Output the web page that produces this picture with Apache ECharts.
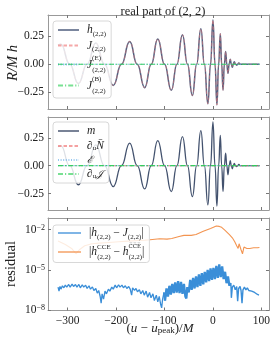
<!DOCTYPE html>
<html><head><meta charset="utf-8">
<script src="https://cdn.jsdelivr.net/npm/echarts@6/dist/echarts.min.js"></script>
<style>html,body{margin:0;padding:0;background:#fff}#c{width:273px;height:342px}</style>
</head><body><div id="c"></div>
<script>
// ---------- data ----------
const xTicks = [-300, -200, -100, 0, 100];
const yTicks = [-0.25, 0, 0.25];
const logTicks = [-8, -5, -2];   // exponents of 10

// real part of the (2,2) waveform: extrema and zero crossings
const waveU = [-320,-314,-296,-278,-260,-242,-224,-206,-189,-172,-156.5,-141,-127.5,-114,-100,-86,-74.5,-63,-52.7,-42.5,-33.7,-25,-17.7,-10.5,-5,0,4.2,8.2,11.7,15.2,18,20.8,23.5,26.2,28.6,31,33.4,35.8,37.9,40,42,44,46.5,49,51,53.5,56,60,96];
const waveH = [0.17,0.178,0,-0.171,0,0.188,0,-0.188,0,0.203,0,-0.208,0,0.225,0,-0.232,0,0.262,0,-0.278,0,0.315,0,-0.352,0,0.393,0,-0.362,0,0.272,0,-0.232,0,0.113,0,-0.081,0,0.045,0,-0.027,0,0.022,0,-0.008,0,0.012,0,0,0];

// flat (zero) curves
const flatU = [-320, 96];
const flatV = [0, 0];

// residual |h - J| : [u, log10 value]
const residualHJ = [[-320,-6.3],[-318,-6.6],[-316,-6.25],[-314,-6.45],[-311,-6.2],[-308,-6.35],[-305,-6.15],[-302,-6.3],[-298,-6.1],[-295,-6.3],[-291,-6.08],[-288,-6.25],[-284,-6.1],[-281,-6.3],[-277,-6.1],[-274,-6.35],[-270,-6.12],[-267,-6.3],[-263,-6.15],[-260,-6.4],[-256,-6.2],[-253,-6.45],[-249,-6.28],[-246,-6.55],[-242,-6.4],[-239,-6.75],[-236,-6.55],[-233,-7.0],[-231,-7.5],[-229,-6.8],[-226,-7.2],[-223,-6.6],[-220,-6.8],[-216,-6.45],[-213,-6.6],[-209,-6.3],[-206,-6.45],[-202,-6.15],[-199,-6.35],[-195,-6.12],[-192,-6.3],[-188,-6.15],[-185,-6.35],[-181,-6.2],[-178,-6.4],[-174,-6.25],[-171,-6.45],[-168,-6.9],[-166,-6.35],[-162,-6.55],[-159,-6.4],[-156,-6.65],[-152,-6.5],[-149,-6.8],[-145,-6.55],[-142,-6.9],[-138,-6.6],[-135,-7.05],[-131,-6.7],[-128,-7.1],[-124,-6.8],[-121,-7.3],[-117,-6.9],[-114,-7.4],[-111,-7.0],[-108,-7.6],[-106,-7.85],[-104,-7.2],[-101,-6.7],[-99,-7.3],[-96,-6.4],[-93,-7.0],[-90,-6.2],[-87,-6.85],[-84,-6.05],[-81,-6.75],[-78,-5.95],[-75,-6.7],[-72,-5.85],[-69,-6.75],[-66,-5.9],[-63,-6.8],[-60,-6.05],[-57,-7.0],[-55,-7.15],[-53,-6.3],[-50,-6.7],[-47,-5.75],[-44,-6.5],[-41,-5.6],[-38,-6.4],[-35,-5.5],[-32,-6.3],[-29,-5.35],[-26,-6.2],[-23,-5.25],[-20,-6.1],[-17,-5.15],[-14,-5.95],[-11,-5.0],[-8,-5.85],[-5,-4.9],[-2,-5.75],[1,-4.85],[4,-5.7],[7,-4.7],[10,-5.6],[13,-4.6],[16,-5.55],[19,-4.75],[22,-5.7],[25,-5.15],[28,-6.0],[31,-5.5],[34,-6.2],[37,-6.0],[38,-7.1],[40,-6.3],[43,-6.15],[46,-6.5],[49,-6.25],[51,-7.35],[53,-6.4],[56,-6.25],[58,-6.55],[60,-7.5],[62,-6.5],[65,-6.3],[68,-6.5],[71,-6.35],[74,-6.55],[77,-6.45],[80,-6.6],[83,-6.55],[86,-6.7],[89,-6.7],[92,-6.85],[95,-6.9]];

// residual |h^CCE - h^CCE-bar| : [u, log10 value]
const residualCCE = [[-320,-2.85],[-305,-3.1],[-292,-3.4],[-283,-3.8],[-276,-3.5],[-265,-3.2],[-250,-3.05],[-235,-3.0],[-215,-2.95],[-195,-2.9],[-175,-2.85],[-155,-2.8],[-140,-2.78],[-130,-2.75],[-110,-2.68],[-95,-2.7],[-85,-2.66],[-70,-2.5],[-60,-2.42],[-45,-2.42],[-35,-2.35],[-20,-2.12],[-5,-1.9],[7,-1.72],[13,-1.75],[18,-1.82],[25,-2.05],[34,-2.37],[40,-2.6],[45,-2.9],[49,-3.2],[52,-3.4],[54,-3.05],[56,-3.15],[58,-3.5],[61,-3.8],[64,-3.3],[67,-3.2],[70,-3.4],[73,-3.3],[76,-3.4],[80,-3.3],[84,-3.35],[88,-3.3],[92,-3.35],[96,-3.33]];

// ---------- chart ----------
const FONT = 'Liberation Serif';
const TXT = '#222';
const FRAME = '#999';
const minus = v => String(v).replace('-', '\u2212');
const wave = waveU.map((u, i) => [u, waveH[i]]);
const flat = flatU.map((u, i) => [u, flatV[i]]);

function makeRich(lh, lhTall) {
  return {
    i: {fontFamily: FONT, fontStyle: 'italic', fontSize: 11.5, color: TXT, lineHeight: lh},
    it: {fontFamily: FONT, fontStyle: 'italic', fontSize: 11.5, color: TXT, lineHeight: lhTall},
    r: {fontFamily: FONT, fontSize: 11.5, color: TXT, lineHeight: lh},
    rt: {fontFamily: FONT, fontSize: 11.5, color: TXT, lineHeight: lhTall},
    sc: {fontFamily: 'DejaVu Serif', fontStyle: 'italic', fontSize: 10, color: TXT, lineHeight: lh},
    sb: {fontFamily: FONT, fontSize: 7, color: TXT, verticalAlign: 'bottom', lineHeight: 7},
    sp: {fontFamily: FONT, fontSize: 7, color: TXT, verticalAlign: 'top', lineHeight: 7, width: 0.1},
    spo: {fontFamily: 'DejaVu Serif', fontSize: 5.5, color: TXT, verticalAlign: 'top', lineHeight: 7, width: 0.1}
  };
}
const names = {
  h22: '{i|h}{sb|(2,2)}',
  J22: '{i|J}{sb|(2,2)}',
  JE: '{it|J}{sp|(E)}{sb|(2,2)}',
  JB: '{it|J}{sp|(B)}{sb|(2,2)}',
  m: '{i|m}',
  dN: '{r|∂}{sb|u}{i|N̄}',
  E: '{sc|ℰ}',
  dJ: '{r|∂}{sb|u}{sc|𝒥}',
  res1: '{r||}{i|h}{sb|(2,2)}{r| − }{i|J}{sb|(2,2)}{r||}',
  res2: '{rt||}{it|h}{sp|CCE}{sb|(2,2)}{rt| − }{it|h}{spo|C̅C̅E̅}{sb|(2,2)}{rt||}'
};

function xAx(g, pos, label) {
  return {
    type: 'value', gridIndex: g, position: pos, min: -340.75, max: 115.75,
    axisLine: {show: true, onZero: false, lineStyle: {color: FRAME, width: 1}},
    axisTick: {show: true, inside: true, length: 3, customValues: xTicks, lineStyle: {color: '#777'}},
    axisLabel: {show: label, customValues: xTicks, margin: 4, color: TXT, fontFamily: FONT, fontSize: 11.5, formatter: v => minus(v)},
    splitLine: {show: false}
  };
}
function yAx(g, pos, label) {
  return {
    type: 'value', gridIndex: g, position: pos, min: -0.398, max: 0.438,
    axisLine: {show: true, onZero: false, lineStyle: {color: FRAME, width: 1}},
    axisTick: {show: true, inside: true, length: 3, customValues: yTicks, lineStyle: {color: '#777'}},
    axisLabel: {show: label, customValues: yTicks, margin: 4, color: TXT, fontFamily: FONT, fontSize: 11.5, formatter: v => minus(v.toFixed(2))},
    splitLine: {show: false}
  };
}
function yLog(pos, label) {
  return {
    type: 'value', gridIndex: 2, position: pos, min: -8.05, max: -1.12,
    axisLine: {show: true, onZero: false, lineStyle: {color: FRAME, width: 1}},
    axisTick: {show: true, inside: true, length: 3, customValues: logTicks, lineStyle: {color: '#777'}},
    axisLabel: {show: label, customValues: logTicks, margin: 3, color: TXT, formatter: v => '{b|10}{s|' + minus(v) + '}',
      rich: {b: {fontFamily: FONT, fontSize: 11.5, color: TXT}, s: {fontFamily: FONT, fontSize: 8, color: TXT, verticalAlign: 'top'}}},
    splitLine: {show: false}
  };
}

const xAxes = [xAx(0,'bottom',false), xAx(0,'top',false), xAx(1,'bottom',false), xAx(1,'top',false), xAx(2,'bottom',true), xAx(2,'top',false)];
const yAxes = [yAx(0,'left',true), yAx(0,'right',false), yAx(1,'left',true), yAx(1,'right',false), yLog('left',true), yLog('right',false)];

function line(name, data, g, color, width, type, opacity, z, smooth) {
  return {
    type: 'line', name, data, xAxisIndex: 2 * g, yAxisIndex: 2 * g, symbol: 'none', smooth: smooth ? 0.5 : false,
    smoothMonotone: smooth ? 'x' : undefined, z: z, silent: true, animation: false,
    lineStyle: {color, width, type, opacity}, itemStyle: {color}
  };
}
const DASH = [3.5, 2];
const DOT = [1, 1.6];
const DASHDOT = [5, 2, 1.2, 2];

const series = [
  line('h22', wave, 0, '#34456a', 1.5, 'solid', 0.85, 2, true),
  line('J22', wave, 0, '#f07a7a', 0.9, DASH, 0.6, 3, true),
  line('JE', flat, 0, '#5aa8e8', 1.2, DOT, 0.9, 4, false),
  line('JB', flat, 0, '#2fcf57', 1.2, DASHDOT, 0.95, 5, false),
  line('m', wave, 1, '#2f3f5e', 1.3, 'solid', 0.9, 2, true),
  line('dN', flat, 1, '#ef6f6f', 1.1, DASH, 0.85, 3, false),
  line('E', flat, 1, '#5aa8e8', 1.2, DOT, 0.9, 4, false),
  line('dJ', flat, 1, '#2fcf57', 1.2, DASHDOT, 0.95, 5, false),
  // early (thin) part and dense late part of |h - J|, same series name
  line('res1', residualHJ.filter(p => p[0] <= -99), 2, '#3a8ed8', 1.3, 'solid', 1, 3, false),
  line('res1', residualHJ.filter(p => p[0] >= -101 && p[0] <= 36), 2, '#3a8ed8', 2.3, 'solid', 1, 3, false),
  line('res1', residualHJ.filter(p => p[0] >= 34), 2, '#3a8ed8', 1.4, 'solid', 1, 3, false),
  line('res2', residualCCE, 2, '#f39450', 1.1, 'solid', 1, 2, false)
];

function legend(data, left, top, itemW, gap, pad, rich) {
  return {
    data, left, top, orient: 'vertical', itemWidth: itemW, itemHeight: 8, itemGap: gap, padding: pad,
    selectedMode: false, backgroundColor: 'rgba(255,255,255,0.82)', borderColor: '#d8d8d8', borderWidth: 1, borderRadius: 3,
    formatter: n => names[n],
    textStyle: {fontFamily: FONT, fontSize: 11.5, color: TXT, padding: [0, 0, 0, 3], rich},
    lineStyle: {opacity: 0.65}, itemStyle: {opacity: 0}
  };
}

const nameRich = {
  i: {fontFamily: FONT, fontStyle: 'italic', fontSize: 13, fill: TXT},
  r: {fontFamily: FONT, fontSize: 13, fill: TXT},
  sb: {fontFamily: FONT, fontSize: 9, fill: TXT, verticalAlign: 'bottom'}
};

const option = {
  backgroundColor: '#fff',
  animation: false,
  title: {text: 'real part of (2, 2)', left: 158, top: 0, textAlign: 'center',
    textStyle: {fontFamily: FONT, fontSize: 12.5, fontWeight: 'normal', color: TXT}},
  grid: [
    {left: 48, top: 15, width: 221, height: 94},
    {left: 48, top: 117, width: 221, height: 93},
    {left: 48, top: 218, width: 221, height: 92.5}
  ],
  xAxis: xAxes,
  yAxis: yAxes,
  legend: [
    legend(['h22','J22','JE','JB'], 53, 21, 21, 2, [3, 5, 3, 4], makeRich(15, 19)),
    legend(['m','dN','E','dJ'], 53, 122, 21, 3, [3, 5, 3, 4], makeRich(12, 12)),
    legend(['res1','res2'], 53, 225, 23, 3, [2, 5, 2, 4], makeRich(15, 17))
  ],
  graphic: [
    {type: 'text', x: 13, y: 63, rotation: Math.PI / 2, silent: true,
      style: {text: 'R/M h', font: 'italic 14.5px "Liberation Serif"', fill: TXT, align: 'center', verticalAlign: 'middle'}},
    {type: 'text', x: 11, y: 264, rotation: Math.PI / 2, silent: true,
      style: {text: 'residual', font: '14.5px "Liberation Serif"', fill: TXT, align: 'center', verticalAlign: 'middle'}},
    {type: 'text', x: 160, y: 329, silent: true,
      style: {text: '{r|(}{i|u}{r| − }{i|u}{sb|peak}{r|)/}{i|M}', rich: nameRich, align: 'center', verticalAlign: 'middle'}}
  ],
  series
};
const chart = echarts.init(document.getElementById('c'), null, {renderer: 'canvas'});
chart.setOption(option);
</script></body></html>
